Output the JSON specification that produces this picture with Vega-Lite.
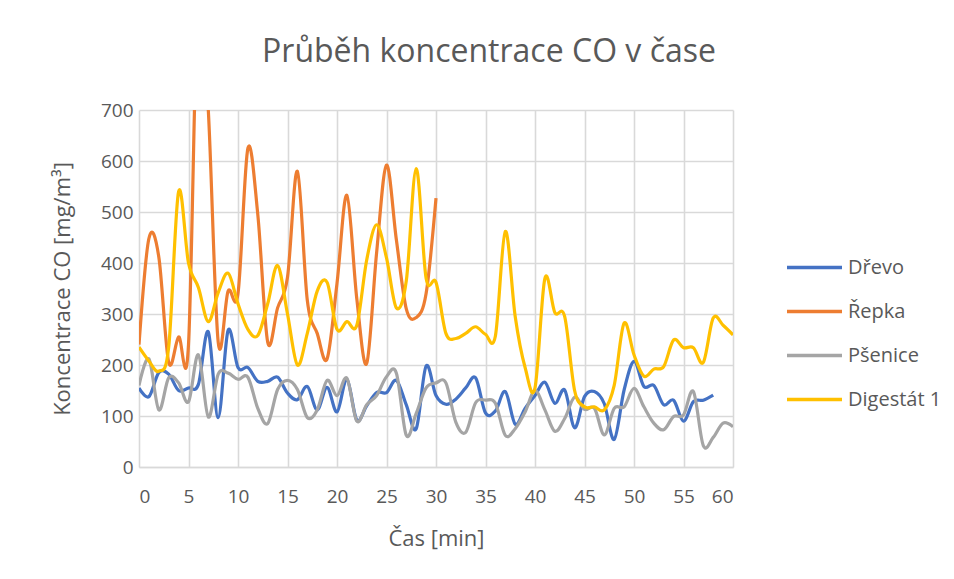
{
  "$schema": "https://vega.github.io/schema/vega-lite/v6.json",
  "autosize": {"type": "none"},
  "padding": {"left": 139, "top": 110, "right": 221, "bottom": 112},
  "width": 594,
  "height": 357,
  "background": "white",
  "title": {
    "text": "Průběh koncentrace CO v čase",
    "font": "Open Sans",
    "fontSize": 32,
    "fontWeight": "normal",
    "color": "#595959",
    "anchor": "middle",
    "baseline": "alphabetic",
    "offset": 7,
    "dx": 53
  },
  "config": {
    "view": {"stroke": null},
    "font": "Open Sans"
  },
  "data": {
    "values": [
      {"t":0,"s":"Dřevo","v":155},{"t":1,"s":"Dřevo","v":138},{"t":2,"s":"Dřevo","v":185},{"t":3,"s":"Dřevo","v":182},{"t":4,"s":"Dřevo","v":150},{"t":5,"s":"Dřevo","v":155},{"t":6,"s":"Dřevo","v":162},{"t":7,"s":"Dřevo","v":265},{"t":8,"s":"Dřevo","v":97},{"t":9,"s":"Dřevo","v":268},{"t":10,"s":"Dřevo","v":195},{"t":11,"s":"Dřevo","v":195},{"t":12,"s":"Dřevo","v":168},{"t":13,"s":"Dřevo","v":168},{"t":14,"s":"Dřevo","v":176},{"t":15,"s":"Dřevo","v":145},{"t":16,"s":"Dřevo","v":132},{"t":17,"s":"Dřevo","v":158},{"t":18,"s":"Dřevo","v":112},{"t":19,"s":"Dřevo","v":156},{"t":20,"s":"Dřevo","v":108},{"t":21,"s":"Dřevo","v":172},{"t":22,"s":"Dřevo","v":92},{"t":23,"s":"Dřevo","v":120},{"t":24,"s":"Dřevo","v":146},{"t":25,"s":"Dřevo","v":146},{"t":26,"s":"Dřevo","v":170},{"t":27,"s":"Dřevo","v":122},{"t":28,"s":"Dřevo","v":75},{"t":29,"s":"Dřevo","v":198},{"t":30,"s":"Dřevo","v":140},{"t":31,"s":"Dřevo","v":123},{"t":32,"s":"Dřevo","v":133},{"t":33,"s":"Dřevo","v":155},{"t":34,"s":"Dřevo","v":175},{"t":35,"s":"Dřevo","v":106},{"t":36,"s":"Dřevo","v":110},{"t":37,"s":"Dřevo","v":148},{"t":38,"s":"Dřevo","v":84},{"t":39,"s":"Dřevo","v":115},{"t":40,"s":"Dřevo","v":140},{"t":41,"s":"Dřevo","v":166},{"t":42,"s":"Dřevo","v":125},{"t":43,"s":"Dřevo","v":151},{"t":44,"s":"Dřevo","v":77},{"t":45,"s":"Dřevo","v":138},{"t":46,"s":"Dřevo","v":148},{"t":47,"s":"Dřevo","v":124},{"t":48,"s":"Dřevo","v":54},{"t":49,"s":"Dřevo","v":151},{"t":50,"s":"Dřevo","v":207},{"t":51,"s":"Dřevo","v":158},{"t":52,"s":"Dřevo","v":160},{"t":53,"s":"Dřevo","v":122},{"t":54,"s":"Dřevo","v":131},{"t":55,"s":"Dřevo","v":90},{"t":56,"s":"Dřevo","v":128},{"t":57,"s":"Dřevo","v":131},{"t":58,"s":"Dřevo","v":141},
      {"t":0,"s":"Řepka","v":240},{"t":1,"s":"Řepka","v":448},{"t":2,"s":"Řepka","v":412},{"t":3,"s":"Řepka","v":205},{"t":4,"s":"Řepka","v":255},{"t":5,"s":"Řepka","v":240},{"t":6,"s":"Řepka","v":950},{"t":7,"s":"Řepka","v":700},{"t":8,"s":"Řepka","v":245},{"t":9,"s":"Řepka","v":345},{"t":10,"s":"Řepka","v":340},{"t":11,"s":"Řepka","v":625},{"t":12,"s":"Řepka","v":495},{"t":13,"s":"Řepka","v":245},{"t":14,"s":"Řepka","v":312},{"t":15,"s":"Řepka","v":372},{"t":16,"s":"Řepka","v":580},{"t":17,"s":"Řepka","v":327},{"t":18,"s":"Řepka","v":262},{"t":19,"s":"Řepka","v":212},{"t":20,"s":"Řepka","v":360},{"t":21,"s":"Řepka","v":533},{"t":22,"s":"Řepka","v":330},{"t":23,"s":"Řepka","v":203},{"t":24,"s":"Řepka","v":420},{"t":25,"s":"Řepka","v":592},{"t":26,"s":"Řepka","v":445},{"t":27,"s":"Řepka","v":310},{"t":28,"s":"Řepka","v":293},{"t":29,"s":"Řepka","v":340},{"t":30,"s":"Řepka","v":527},
      {"t":0,"s":"Pšenice","v":160},{"t":1,"s":"Pšenice","v":212},{"t":2,"s":"Pšenice","v":112},{"t":3,"s":"Pšenice","v":175},{"t":4,"s":"Pšenice","v":165},{"t":5,"s":"Pšenice","v":128},{"t":6,"s":"Pšenice","v":220},{"t":7,"s":"Pšenice","v":98},{"t":8,"s":"Pšenice","v":182},{"t":9,"s":"Pšenice","v":184},{"t":10,"s":"Pšenice","v":172},{"t":11,"s":"Pšenice","v":176},{"t":12,"s":"Pšenice","v":115},{"t":13,"s":"Pšenice","v":85},{"t":14,"s":"Pšenice","v":152},{"t":15,"s":"Pšenice","v":170},{"t":16,"s":"Pšenice","v":152},{"t":17,"s":"Pšenice","v":97},{"t":18,"s":"Pšenice","v":112},{"t":19,"s":"Pšenice","v":170},{"t":20,"s":"Pšenice","v":140},{"t":21,"s":"Pšenice","v":174},{"t":22,"s":"Pšenice","v":90},{"t":23,"s":"Pšenice","v":122},{"t":24,"s":"Pšenice","v":140},{"t":25,"s":"Pšenice","v":177},{"t":26,"s":"Pšenice","v":184},{"t":27,"s":"Pšenice","v":62},{"t":28,"s":"Pšenice","v":105},{"t":29,"s":"Pšenice","v":155},{"t":30,"s":"Pšenice","v":165},{"t":31,"s":"Pšenice","v":165},{"t":32,"s":"Pšenice","v":88},{"t":33,"s":"Pšenice","v":68},{"t":34,"s":"Pšenice","v":126},{"t":35,"s":"Pšenice","v":131},{"t":36,"s":"Pšenice","v":125},{"t":37,"s":"Pšenice","v":62},{"t":38,"s":"Pšenice","v":75},{"t":39,"s":"Pšenice","v":108},{"t":40,"s":"Pšenice","v":150},{"t":41,"s":"Pšenice","v":112},{"t":42,"s":"Pšenice","v":70},{"t":43,"s":"Pšenice","v":95},{"t":44,"s":"Pšenice","v":137},{"t":45,"s":"Pšenice","v":113},{"t":46,"s":"Pšenice","v":115},{"t":47,"s":"Pšenice","v":63},{"t":48,"s":"Pšenice","v":115},{"t":49,"s":"Pšenice","v":118},{"t":50,"s":"Pšenice","v":154},{"t":51,"s":"Pšenice","v":118},{"t":52,"s":"Pšenice","v":86},{"t":53,"s":"Pšenice","v":73},{"t":54,"s":"Pšenice","v":99},{"t":55,"s":"Pšenice","v":102},{"t":56,"s":"Pšenice","v":148},{"t":57,"s":"Pšenice","v":42},{"t":58,"s":"Pšenice","v":58},{"t":59,"s":"Pšenice","v":86},{"t":60,"s":"Pšenice","v":79},
      {"t":0,"s":"Digestát 1","v":235},{"t":1,"s":"Digestát 1","v":208},{"t":2,"s":"Digestát 1","v":188},{"t":3,"s":"Digestát 1","v":235},{"t":4,"s":"Digestát 1","v":540},{"t":5,"s":"Digestát 1","v":400},{"t":6,"s":"Digestát 1","v":352},{"t":7,"s":"Digestát 1","v":285},{"t":8,"s":"Digestát 1","v":342},{"t":9,"s":"Digestát 1","v":380},{"t":10,"s":"Digestát 1","v":320},{"t":11,"s":"Digestát 1","v":270},{"t":12,"s":"Digestát 1","v":258},{"t":13,"s":"Digestát 1","v":320},{"t":14,"s":"Digestát 1","v":395},{"t":15,"s":"Digestát 1","v":300},{"t":16,"s":"Digestát 1","v":200},{"t":17,"s":"Digestát 1","v":262},{"t":18,"s":"Digestát 1","v":345},{"t":19,"s":"Digestát 1","v":362},{"t":20,"s":"Digestát 1","v":270},{"t":21,"s":"Digestát 1","v":285},{"t":22,"s":"Digestát 1","v":278},{"t":23,"s":"Digestát 1","v":406},{"t":24,"s":"Digestát 1","v":475},{"t":25,"s":"Digestát 1","v":410},{"t":26,"s":"Digestát 1","v":312},{"t":27,"s":"Digestát 1","v":365},{"t":28,"s":"Digestát 1","v":585},{"t":29,"s":"Digestát 1","v":370},{"t":30,"s":"Digestát 1","v":362},{"t":31,"s":"Digestát 1","v":262},{"t":32,"s":"Digestát 1","v":252},{"t":33,"s":"Digestát 1","v":262},{"t":34,"s":"Digestát 1","v":275},{"t":35,"s":"Digestát 1","v":260},{"t":36,"s":"Digestát 1","v":257},{"t":37,"s":"Digestát 1","v":462},{"t":38,"s":"Digestát 1","v":295},{"t":39,"s":"Digestát 1","v":195},{"t":40,"s":"Digestát 1","v":155},{"t":41,"s":"Digestát 1","v":370},{"t":42,"s":"Digestát 1","v":303},{"t":43,"s":"Digestát 1","v":295},{"t":44,"s":"Digestát 1","v":150},{"t":45,"s":"Digestát 1","v":118},{"t":46,"s":"Digestát 1","v":118},{"t":47,"s":"Digestát 1","v":112},{"t":48,"s":"Digestát 1","v":160},{"t":49,"s":"Digestát 1","v":282},{"t":50,"s":"Digestát 1","v":220},{"t":51,"s":"Digestát 1","v":178},{"t":52,"s":"Digestát 1","v":192},{"t":53,"s":"Digestát 1","v":197},{"t":54,"s":"Digestát 1","v":249},{"t":55,"s":"Digestát 1","v":234},{"t":56,"s":"Digestát 1","v":234},{"t":57,"s":"Digestát 1","v":205},{"t":58,"s":"Digestát 1","v":292},{"t":59,"s":"Digestát 1","v":278},{"t":60,"s":"Digestát 1","v":259}
    ]
  },
  "mark": {"type": "line", "interpolate": "cardinal", "strokeWidth": 3.2, "clip": true},
  "encoding": {
    "x": {
      "field": "t", "type": "quantitative",
      "scale": {"domain": [0, 60], "nice": false, "zero": false},
      "axis": {
        "title": "Čas [min]",
        "values": [0,5,10,15,20,25,30,35,40,45,50,55,60],
        "grid": true, "gridColor": "#d9d9d9", "gridWidth": 1.6,
        "domain": true, "domainColor": "#d9d9d9", "domainWidth": 1.6,
        "ticks": false,
        "labelFontSize": 19, "labelColor": "#595959", "labelPadding": 20, "labelFont": "Open Sans",
        "titleFontSize": 22, "titleColor": "#595959", "titleFontWeight": "normal", "titlePadding": 22, "titleFont": "Open Sans"
      }
    },
    "y": {
      "field": "v", "type": "quantitative",
      "scale": {"domain": [0, 700], "nice": false},
      "axis": {
        "title": "Koncentrace CO [mg/m³]",
        "values": [0,100,200,300,400,500,600,700],
        "grid": true, "gridColor": "#d9d9d9", "gridWidth": 1.6,
        "domain": false, "ticks": false,
        "labelFontSize": 19, "labelColor": "#595959", "labelPadding": 6, "labelFont": "Open Sans",
        "titleFontSize": 22, "titleColor": "#595959", "titleFontWeight": "normal", "titlePadding": 26, "titleFont": "Open Sans"
      }
    },
    "color": {
      "field": "s", "type": "nominal",
      "scale": {"domain": ["Dřevo", "Řepka", "Pšenice", "Digestát 1"], "range": ["#4472C4", "#ED7D31", "#A5A5A5", "#FFC000"]},
      "legend": {
        "title": null,
        "orient": "none",
        "legendX": 646,
        "legendY": 128,
        "symbolType": "stroke",
        "symbolSize": 3025,
        "symbolStrokeWidth": 3.5,
        "labelFontSize": 20,
        "labelColor": "#595959",
        "labelFont": "Open Sans",
        "labelOffset": 4,
        "rowPadding": 4,
        "padding": 0
      }
    }
  }
}
